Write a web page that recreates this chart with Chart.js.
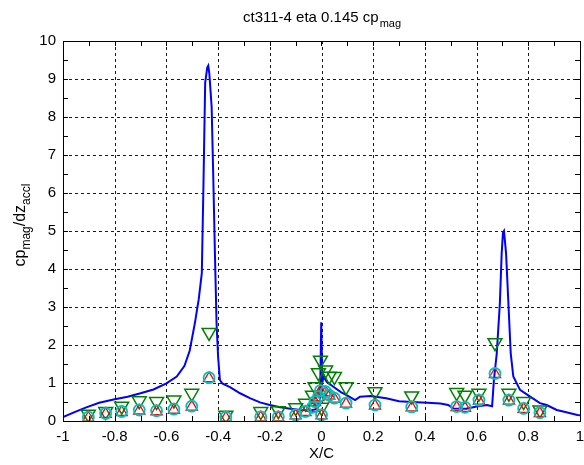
<!DOCTYPE html>
<html>
<head>
<meta charset="utf-8">
<title>ct311-4 eta 0.145 cp_mag</title>
<script src="https://cdn.jsdelivr.net/npm/chart.js@4/dist/chart.umd.min.js"></script>
<style>
  html, body { margin: 0; padding: 0; background: #fff; }
  #wrap { width: 584px; height: 465px; }
</style>
</head>
<body>
<div id="wrap"><canvas id="cpChart" width="584" height="465"></canvas></div>
<script>
'use strict';

/* --- Axis ticks --- */
const xTickValues = [-1, -0.8, -0.6, -0.4, -0.2, 0, 0.2, 0.4, 0.6, 0.8, 1];
const xTickLabels = ['-1', '-0.8', '-0.6', '-0.4', '-0.2', '0', '0.2', '0.4', '0.6', '0.8', '1'];
const yTickValues = [0, 1, 2, 3, 4, 5, 6, 7, 8, 9, 10];
const yTickLabels = ['0', '1', '2', '3', '4', '5', '6', '7', '8', '9', '10'];

/* --- Computed cp_mag curve (X/C, value) --- */
const curveX = [
  -1.0, -0.96, -0.91, -0.86, -0.80, -0.75, -0.70, -0.65, -0.60, -0.56,
  -0.53, -0.51, -0.49, -0.475, -0.463, -0.457, -0.45, -0.442, -0.438, -0.434,
  -0.425, -0.419, -0.412, -0.406, -0.40, -0.393, -0.384, -0.354, -0.315, -0.277,
  -0.238, -0.20, -0.16, -0.12, -0.083, -0.04, -0.019, -0.006, -0.001, 0.003,
  0.008, 0.02, 0.046, 0.075, 0.097, 0.13, 0.149, 0.19, 0.25, 0.30,
  0.35, 0.41, 0.46, 0.49, 0.51, 0.56, 0.60, 0.64, 0.66, 0.667,
  0.678, 0.69, 0.697, 0.702, 0.706, 0.714, 0.723, 0.732, 0.742, 0.768,
  0.807, 0.845, 0.871, 0.91, 0.935, 0.99, 1.0
];
const curveY = [
  0.10, 0.22, 0.36, 0.48, 0.57, 0.64, 0.73, 0.83, 0.99, 1.17,
  1.45, 1.85, 2.57, 3.20, 3.89, 6.08, 8.90, 9.30, 9.35, 9.15,
  8.27, 6.52, 4.32, 2.57, 1.69, 1.08, 0.99, 0.89, 0.73, 0.60,
  0.49, 0.42, 0.36, 0.32, 0.29, 0.28, 0.32, 0.45, 2.60, 1.00,
  1.17, 1.03, 0.90, 0.76, 0.68, 0.55, 0.64, 0.66, 0.60, 0.52,
  0.50, 0.48, 0.46, 0.42, 0.33, 0.32, 0.38, 0.42, 0.39, 1.08,
  1.78, 3.10, 4.41, 4.95, 5.00, 4.41, 3.10, 1.78, 1.17, 0.82,
  0.64, 0.47, 0.42, 0.29, 0.25, 0.16, 0.15
];

/* --- Pressure tap values --- */
const tapX = [
  -0.902, -0.835, -0.773, -0.705, -0.638, -0.571, -0.502, -0.435, -0.370, -0.235,
  -0.167, -0.100, -0.062, -0.035, -0.025, -0.012, -0.004, 0.000, 0.016, 0.030,
  0.050, 0.095, 0.207, 0.349, 0.523, 0.555, 0.609, 0.671, 0.725, 0.782, 0.845
];
const tapMax = [
  0.18, 0.25, 0.39, 0.53, 0.51, 0.55, 0.73, 2.33, 0.15, 0.25,
  0.27, 0.35, 0.47, 0.68, 0.90, 1.27, 1.60, 0.36, 1.34, 1.18,
  1.17, 0.90, 0.77, 0.66, 0.75, 0.68, 0.73, 2.06, 0.73, 0.51, 0.29
];
const tapMean = [
  0.08, 0.18, 0.23, 0.27, 0.25, 0.29, 0.37, 1.12, 0.08, 0.09,
  0.09, 0.14, 0.23, 0.34, 0.49, 0.62, 0.78, 0.14, 0.75, 0.66,
  0.58, 0.45, 0.40, 0.35, 0.36, 0.34, 0.53, 1.23, 0.53, 0.31, 0.20
];
const tapRms = [
  0.10, 0.20, 0.25, 0.29, 0.27, 0.31, 0.39, 1.14, 0.10, 0.11,
  0.11, 0.16, 0.25, 0.36, 0.51, 0.64, 0.80, 0.16, 0.77, 0.68,
  0.60, 0.47, 0.42, 0.37, 0.38, 0.36, 0.55, 1.25, 0.55, 0.33, 0.22
];

const FONT = '"Liberation Sans", Arial, sans-serif';

const pts = (xs, ys) => xs.map((x, i) => ({ x: x, y: ys[i] }));

/* --- Axes frame, dashed grid, inward ticks and labels --- */
const framePlugin = {
  id: 'frame',
  beforeDatasetsDraw(chart) {
    const { ctx, chartArea: a, scales: { x, y } } = chart;
    ctx.save();
    ctx.strokeStyle = '#1a1a1a';
    ctx.lineWidth = 1;
    ctx.setLineDash([3, 3]);
    ctx.beginPath();
    xTickValues.slice(1, -1).forEach(v => {
      const px = Math.round(x.getPixelForValue(v)) + 0.5;
      ctx.moveTo(px, a.top); ctx.lineTo(px, a.bottom);
    });
    yTickValues.slice(1, -1).forEach(v => {
      const py = Math.round(y.getPixelForValue(v)) + 0.5;
      ctx.moveTo(a.left, py); ctx.lineTo(a.right, py);
    });
    ctx.stroke();
    ctx.restore();
  },
  afterDatasetsDraw(chart) {
    const { ctx, chartArea: a, scales: { x, y } } = chart;
    const len = 5;
    ctx.save();
    ctx.strokeStyle = '#000';
    ctx.lineWidth = 1;
    ctx.setLineDash([]);
    ctx.beginPath();
    for (let v = -1; v <= 1.0001; v += 0.1) {
      const px = Math.round(x.getPixelForValue(v)) + 0.5;
      ctx.moveTo(px, a.bottom); ctx.lineTo(px, a.bottom - len);
      ctx.moveTo(px, a.top); ctx.lineTo(px, a.top + len);
    }
    for (let v = 0; v <= 10.0001; v += 0.5) {
      const py = Math.round(y.getPixelForValue(v)) + 0.5;
      ctx.moveTo(a.left, py); ctx.lineTo(a.left + len, py);
      ctx.moveTo(a.right, py); ctx.lineTo(a.right - len, py);
    }
    ctx.stroke();
    ctx.strokeRect(Math.round(a.left) + 0.5, Math.round(a.top) + 0.5,
      Math.round(a.right - a.left), Math.round(a.bottom - a.top));
    ctx.restore();
  },
  afterDraw(chart) {
    const { ctx, chartArea: a } = chart;
    const cx = (a.left + a.right) / 2;
    ctx.save();
    ctx.fillStyle = '#000';
    ctx.textBaseline = 'alphabetic';

    // title with subscript
    const main = 'ct311-4 eta 0.145 cp', sub = 'mag';
    ctx.font = '15px ' + FONT;
    const wMain = ctx.measureText(main).width;
    ctx.font = '11px ' + FONT;
    const wSub = ctx.measureText(sub).width;
    const tx = cx - (wMain + wSub) / 2;
    ctx.font = '15px ' + FONT;
    ctx.fillText(main, tx, 22);
    ctx.font = '11px ' + FONT;
    ctx.fillText(sub, tx + wMain + 1, 27);

    // y axis label, rotated, with two subscripts
    const parts = [['cp', 16, 0], ['mag', 12, 5], ['/dz', 16, 0], ['accl', 12, 5]];
    let total = 0;
    parts.forEach(p => { ctx.font = p[1] + 'px ' + FONT; total += ctx.measureText(p[0]).width; });
    ctx.translate(25, (a.top + a.bottom) / 2 - 6);
    ctx.rotate(-Math.PI / 2);
    let px = -total / 2;
    parts.forEach(p => {
      ctx.font = p[1] + 'px ' + FONT;
      ctx.fillText(p[0], px, p[2]);
      px += ctx.measureText(p[0]).width;
    });
    ctx.setTransform(1, 0, 0, 1, 0, 0);

    // x axis label
    ctx.font = '15px ' + FONT;
    ctx.textAlign = 'center';
    ctx.fillText('X/C', cx, 458);
    ctx.restore();
  }
};

const ctx = document.getElementById('cpChart').getContext('2d');
new Chart(ctx, {
  type: 'scatter',
  data: {
    datasets: [
      {
        label: 'cp_mag',
        data: pts(curveX, curveY),
        showLine: true,
        borderColor: '#0000ff',
        borderWidth: 2,
        pointRadius: 0,
        tension: 0,
        order: 4
      },
      {
        label: 'max',
        data: pts(tapX, tapMax),
        pointStyle: 'triangle',
        rotation: 180,
        pointRadius: 8,
        borderColor: '#008000',
        backgroundColor: 'rgba(0,0,0,0)',
        pointBorderWidth: 1.5,
        order: 3
      },
      {
        label: 'mean',
        data: pts(tapX, tapMean),
        pointStyle: 'triangle',
        pointRadius: 6.5,
        borderColor: '#ff0000',
        backgroundColor: 'rgba(0,0,0,0)',
        pointBorderWidth: 1.3,
        order: 2
      },
      {
        label: 'rms',
        data: pts(tapX, tapRms),
        pointStyle: 'circle',
        pointRadius: 5.5,
        borderColor: '#00c0c0',
        backgroundColor: 'rgba(0,0,0,0)',
        pointBorderWidth: 1.8,
        order: 1
      }
    ]
  },
  options: {
    responsive: false,
    animation: false,
    devicePixelRatio: 1,
    layout: { autoPadding: false, padding: { top: 41, right: 4, left: 0, bottom: 0 } },
    plugins: {
      legend: { display: false },
      title: { display: false },
      tooltip: { enabled: false }
    },
    scales: {
      x: {
        type: 'linear',
        min: -1,
        max: 1,
        afterBuildTicks: s => { s.ticks = xTickValues.map(v => ({ value: v })); },
        afterFit: s => { s.height = 44; s.paddingLeft = 0; s.paddingRight = 0; },
        grid: { display: false, drawTicks: false },
        border: { display: false },
        ticks: {
          color: '#000',
          font: { family: FONT, size: 15 },
          padding: 7,
          maxRotation: 0,
          autoSkip: false,
          callback: (v, i) => xTickLabels[i]
        }
      },
      y: {
        type: 'linear',
        min: 0,
        max: 10,
        afterBuildTicks: s => { s.ticks = yTickValues.map(v => ({ value: v })); },
        afterFit: s => { s.width = 63; s.paddingTop = 0; s.paddingBottom = 0; },
        grid: { display: false, drawTicks: false },
        border: { display: false },
        ticks: {
          color: '#000',
          font: { family: FONT, size: 15 },
          padding: 7,
          autoSkip: false,
          callback: (v, i) => yTickLabels[i]
        }
      }
    }
  },
  plugins: [framePlugin]
});
</script>
</body>
</html>
